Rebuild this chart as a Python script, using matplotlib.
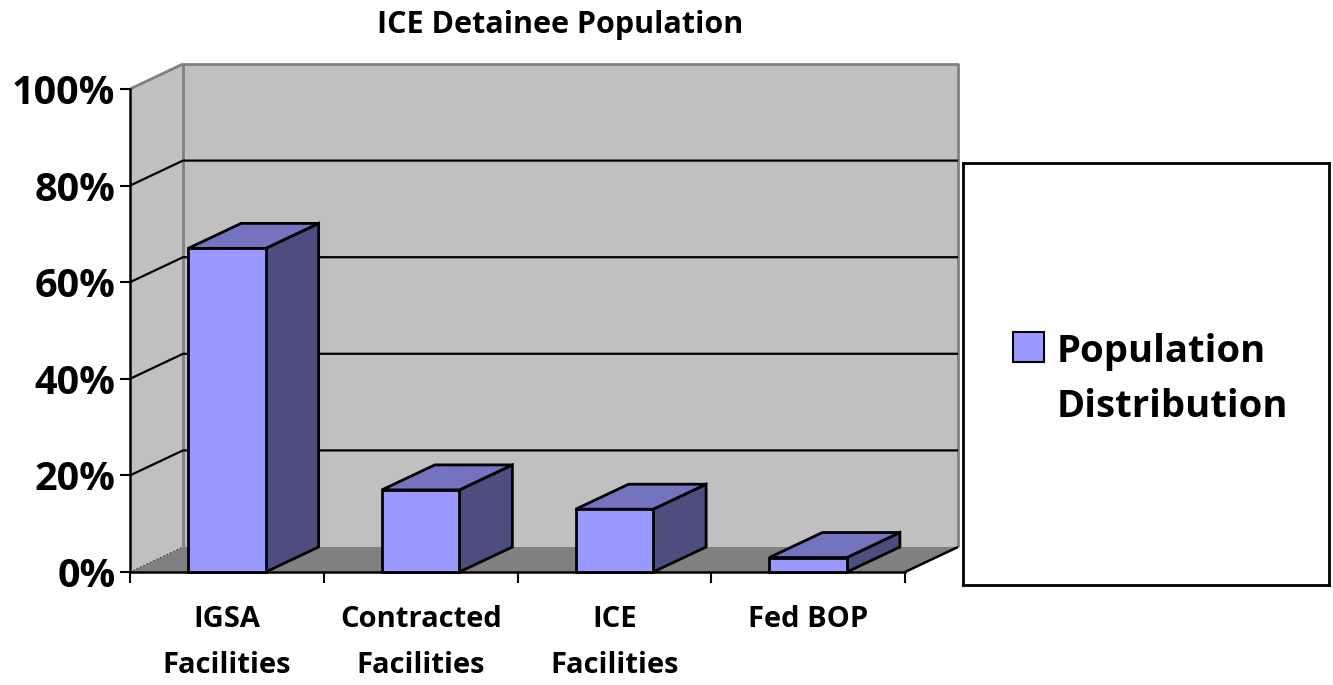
import matplotlib.pyplot as plt
from matplotlib.patches import Polygon, Rectangle

plt.rcParams['font.family'] = ['Open Sans', 'DejaVu Sans']
plt.rcParams['font.weight'] = 'bold'

title = "ICE Detainee Population"
categories = ["IGSA\nFacilities", "Contracted\nFacilities", "ICE\nFacilities", "Fed BOP"]
shares = [0.67, 0.17, 0.13, 0.03]
y_ticks = [0, 0.2, 0.4, 0.6, 0.8, 1.0]
y_tick_labels = ["0%", "20%", "40%", "60%", "80%", "100%"]
series_lines = ["Population", "Distribution"]

W, H = 1333, 685
fig = plt.figure(figsize=(W / 100, H / 100), dpi=100)

# front plane of the 3d box, in pixels
left, right, base, top = 130, 905, 572, 89
ax = fig.add_axes([left / W, 1 - base / H, (right - left) / W, (base - top) / H])
n = len(categories)
ax.set_xlim(0, n)
ax.set_ylim(0, 1)
ax.set_facecolor("none")

# depth offset: 53px right, 25px up -> data units
dx = 53 / (right - left) * n
dy = 25 / (base - top)


def proj(x, y, d=0.0):
    return (x + d * dx, y + d * dy)


def poly(pts, fc, z, ec="none", lw=0):
    ax.add_patch(Polygon(pts, closed=True, facecolor=fc, edgecolor=ec,
                         linewidth=lw, zorder=z, clip_on=False, joinstyle="miter"))


def line(pts, color, lw, z, ls="-"):
    xs, ys = zip(*pts)
    ax.plot(xs, ys, color=color, lw=lw, ls=ls, zorder=z, clip_on=False,
            solid_capstyle="butt")


# walls and floor
poly([proj(0, 0), proj(0, 1), proj(0, 1, 1), proj(0, 0, 1)], "#C0C0C0", 1)
poly([proj(0, 0, 1), proj(0, 1, 1), proj(n, 1, 1), proj(n, 0, 1)], "#C0C0C0", 1)
poly([proj(0, 0), proj(n, 0), proj(n, 0, 1), proj(0, 0, 1)], "#808080", 1.5)

line([proj(0, 0, 1), proj(0, 1, 1), proj(n, 1, 1), proj(n, 0, 1)], "#808080", 2, 2)
line([proj(0, 1), proj(0, 1, 1)], "#808080", 2, 2)
line([proj(0, 0), proj(0, 0, 1)], "#404040", 1, 2, ls=":")
line([proj(n, 0), proj(n, 0, 1)], "black", 1.8, 2)

for t in y_ticks[1:-1]:
    line([proj(0, t), proj(0, t, 1), proj(n, t, 1)], "black", 1.6, 2)

# bars
half = 0.2
for i, v in enumerate(shares):
    x0, x1 = i + 0.5 - half, i + 0.5 + half
    poly([proj(x1, 0), proj(x1, v), proj(x1, v, 1), proj(x1, 0, 1)], "#4D4D80", 5, "black", 2)
    poly([proj(x0, v), proj(x0, v, 1), proj(x1, v, 1), proj(x1, v)], "#7373BF", 5, "black", 2)
    poly([proj(x0, 0), proj(x0, v), proj(x1, v), proj(x1, 0)], "#9999FF", 5, "black", 2)

# axes
for s in ["top", "right"]:
    ax.spines[s].set_visible(False)
for s in ["left", "bottom"]:
    ax.spines[s].set_linewidth(1.8)
    ax.spines[s].set_zorder(4)
ax.set_yticks(y_ticks, y_tick_labels, fontsize=28.5, fontweight="bold")
ax.tick_params(axis="y", direction="out", length=7.5, width=1.5, pad=3)
ax.set_xticks(range(n + 1), [""] * (n + 1))
ax.tick_params(axis="x", which="major", direction="out", length=8, width=1.5)
ax.set_xticks([i + 0.5 for i in range(n)], categories, minor=True,
              fontsize=21, fontweight="bold", linespacing=1.75)
ax.tick_params(axis="x", which="minor", length=0, pad=24)

fig.text(560 / W, 1 - 25 / H, title, ha="center", va="center",
         fontsize=22, fontweight="bold")

# legend box
lax = fig.add_axes([963 / W, 1 - 585 / H, 366 / W, 422 / H])
lax.set_xticks([])
lax.set_yticks([])
for s in lax.spines.values():
    s.set_linewidth(2)
lax.add_patch(Rectangle((0.137, 0.528), 0.085, 0.071, facecolor="#9999FF",
                        edgecolor="black", linewidth=1.5, transform=lax.transAxes))
lax.text(0.257, (585 - 362) / 422, series_lines[0], transform=lax.transAxes,
         fontsize=27.5, fontweight="bold", va="baseline")
lax.text(0.257, (585 - 417) / 422, series_lines[1], transform=lax.transAxes,
         fontsize=27.5, fontweight="bold", va="baseline")

fig.savefig("out.png", dpi=100)
